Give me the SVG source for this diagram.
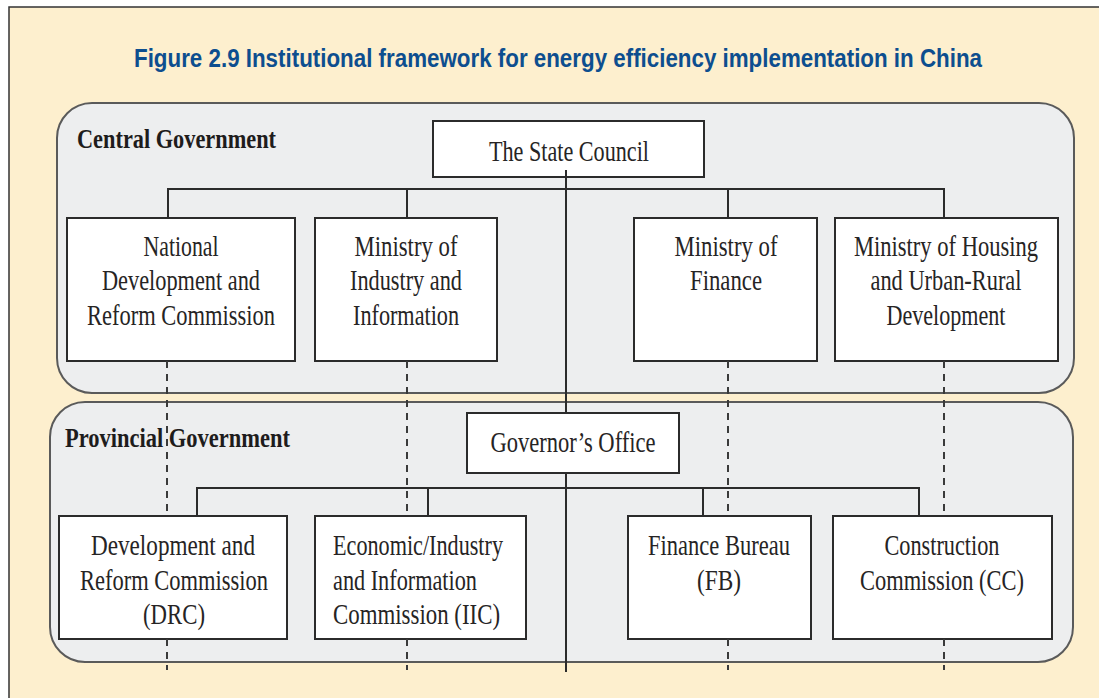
<svg xmlns="http://www.w3.org/2000/svg" width="1099" height="698" viewBox="0 0 1099 698">
  <style>
    .panel { fill: #EDEEEF; stroke: #5a5a5a; stroke-width: 2; }
    .box { fill: #FFFFFF; stroke: #2b2b2b; stroke-width: 2; }
    .t { font-family: "Liberation Serif", "Times New Roman", serif; font-size: 29px; fill: #262424; text-anchor: middle; }
    .ts { font-family: "Liberation Serif", "Times New Roman", serif; font-size: 29px; fill: #262424; text-anchor: start; }
    .lbl { font-family: "Liberation Serif", "Times New Roman", serif; font-size: 27px; font-weight: bold; fill: #1e1c1c; }
    .title { font-family: "Liberation Sans", Arial, sans-serif; font-size: 19px; font-weight: bold; fill: #0D4E8F; text-anchor: middle; }
    .solid { fill: none; stroke: #2b2b2b; stroke-width: 2; }
    .dash { fill: none; stroke: #3a3a3a; stroke-width: 2; stroke-dasharray: 7 6; }
  </style>

  <rect x="0" y="0" width="1099" height="698" fill="#FFFFFF"/>
  <rect x="9" y="7" width="1100" height="700" fill="#FDEFCE" stroke="#333333" stroke-width="1.5"/>

  <text class="title" transform="translate(558,67) scale(1,1.37)" x="0" y="0" textLength="848" lengthAdjust="spacingAndGlyphs">Figure 2.9 Institutional framework for energy efficiency implementation in China</text>

  <g id="central-government">
    <rect class="panel" x="57" y="103" width="1017" height="290" rx="35" ry="35"/>
    <text class="lbl" x="77" y="148" textLength="199" lengthAdjust="spacingAndGlyphs">Central Government</text>
  </g>
  <g id="provincial-government">
    <rect class="panel" x="50" y="402" width="1023" height="260" rx="35" ry="35"/>
    <text class="lbl" x="65" y="447" textLength="225" lengthAdjust="spacingAndGlyphs">Provincial Government</text>
  </g>

  <g id="state-council">
    <rect class="box" x="433" y="121" width="271" height="56"/>
    <text class="t" x="569" y="161" textLength="160" lengthAdjust="spacingAndGlyphs">The State Council</text>
  </g>

  <g id="ndrc">
    <rect class="box" x="67" y="218" width="228" height="143"/>
    <text class="t" x="181" y="256" textLength="75" lengthAdjust="spacingAndGlyphs">National</text>
    <text class="t" x="181" y="290" textLength="158" lengthAdjust="spacingAndGlyphs">Development and</text>
    <text class="t" x="181" y="325" textLength="188" lengthAdjust="spacingAndGlyphs">Reform Commission</text>
  </g>

  <g id="miit">
    <rect class="box" x="315" y="218" width="182" height="143"/>
    <text class="t" x="406" y="256" textLength="103" lengthAdjust="spacingAndGlyphs">Ministry of</text>
    <text class="t" x="406" y="290" textLength="112" lengthAdjust="spacingAndGlyphs">Industry and</text>
    <text class="t" x="406" y="325" textLength="106" lengthAdjust="spacingAndGlyphs">Information</text>
  </g>

  <g id="mof">
    <rect class="box" x="634" y="218" width="183" height="143"/>
    <text class="t" x="726" y="256" textLength="103" lengthAdjust="spacingAndGlyphs">Ministry of</text>
    <text class="t" x="726" y="290" textLength="72" lengthAdjust="spacingAndGlyphs">Finance</text>
  </g>

  <g id="mohurd">
    <rect class="box" x="835" y="218" width="223" height="143"/>
    <text class="t" x="946" y="256" textLength="184" lengthAdjust="spacingAndGlyphs">Ministry of Housing</text>
    <text class="t" x="946" y="290" textLength="151" lengthAdjust="spacingAndGlyphs">and Urban-Rural</text>
    <text class="t" x="946" y="325" textLength="119" lengthAdjust="spacingAndGlyphs">Development</text>
  </g>

  <g id="governors-office">
    <rect class="box" x="467" y="413" width="212" height="60"/>
    <text class="t" x="573" y="452" textLength="165" lengthAdjust="spacingAndGlyphs">Governor’s Office</text>
  </g>

  <g id="drc">
    <rect class="box" x="59" y="516" width="228" height="123"/>
    <text class="t" x="173" y="555" textLength="164" lengthAdjust="spacingAndGlyphs">Development and</text>
    <text class="t" x="174" y="590" textLength="188" lengthAdjust="spacingAndGlyphs">Reform Commission</text>
    <text class="t" x="174" y="624" textLength="62" lengthAdjust="spacingAndGlyphs">(DRC)</text>
  </g>

  <g id="iic">
    <rect class="box" x="315" y="516" width="211" height="123"/>
    <text class="ts" x="333" y="555" textLength="170" lengthAdjust="spacingAndGlyphs">Economic/Industry</text>
    <text class="ts" x="333" y="590" textLength="144" lengthAdjust="spacingAndGlyphs">and Information</text>
    <text class="ts" x="333" y="624" textLength="167" lengthAdjust="spacingAndGlyphs">Commission (IIC)</text>
  </g>

  <g id="fb">
    <rect class="box" x="628" y="516" width="183" height="123"/>
    <text class="t" x="719" y="555" textLength="142" lengthAdjust="spacingAndGlyphs">Finance Bureau</text>
    <text class="t" x="719" y="590" textLength="44" lengthAdjust="spacingAndGlyphs">(FB)</text>
  </g>

  <g id="cc">
    <rect class="box" x="833" y="516" width="219" height="123"/>
    <text class="t" x="942" y="555" textLength="115" lengthAdjust="spacingAndGlyphs">Construction</text>
    <text class="t" x="942" y="590" textLength="164" lengthAdjust="spacingAndGlyphs">Commission (CC)</text>
  </g>

  <g id="connectors">
    <path class="solid" d="M566 170 V413 M566 473 V672"/>
    <path class="solid" d="M168 218 V189 H944 V218 M407 189 V218 M728 189 V218"/>
    <path class="solid" d="M197 516 V488 H919 V516 M428 488 V516 M703 488 V516"/>
    <path class="dash" d="M167 361 V516 M167 639 V670"/>
    <path class="dash" d="M407 361 V516 M407 639 V670"/>
    <path class="dash" d="M728 361 V516 M728 639 V670"/>
    <path class="dash" d="M944 361 V516 M944 639 V670"/>
  </g>
</svg>
